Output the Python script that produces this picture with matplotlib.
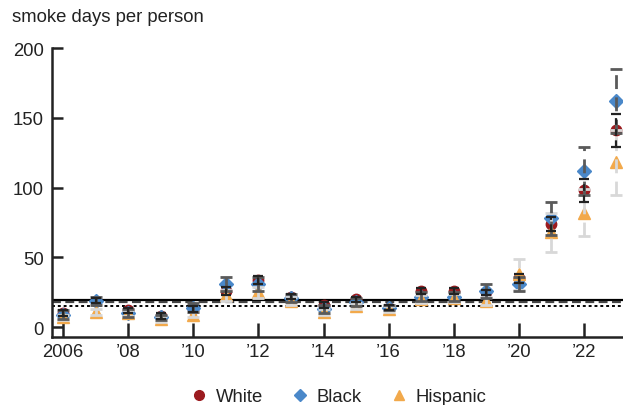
import matplotlib.pyplot as plt
from matplotlib.lines import Line2D

plt.rcParams['font.family'] = ['Liberation Sans', 'DejaVu Sans']

years = list(range(2006, 2024))

white = [10, 19, 12, 8, 13, 26, 34, 22, 16, 20, 14, 26, 26, 25, 35, 74, 98, 141]
black = [9, 19, 10, 7, 14, 31, 31, 21, 13, 18, 14, 22, 22, 26, 31, 78, 112, 162]
hispanic = [7, 11, 10, 6, 9, 23, 25, 19, 11, 15, 13, 20, 21, 19, 38, 68, 82, 118]

white_err = [2, 2, 2, 2, 2, 3, 3, 2, 2, 2, 2, 2, 2, 2, 3, 5, 8, 12]
black_err = [3, 3, 3, 2, 3, 5, 5, 3, 3, 3, 2, 3, 3, 5, 5, 12, 17, 23]
hispanic_err = [2, 2, 2, 2, 2, 4, 4, 3, 2, 2, 2, 3, 3, 3, 11, 14, 17, 23]

# reference levels for each group
white_mean = 19.5
black_mean = 18
hispanic_mean = 15

c_white = '#9b1b1f'
c_black = '#4a88c9'
c_hisp = '#f2a94b'
txt = '#222222'
fs = 13.3

fig = plt.figure(figsize=(6.23, 4.06), dpi=100)
ax = fig.add_axes([52 / 623, 68 / 406, 571 / 623, 289 / 406])

ax.axhline(white_mean, color='black', lw=1.6, zorder=1)
ax.axhline(black_mean, color='#444444', lw=1.6, ls=(0, (4, 2)), zorder=1)
ax.axhline(hispanic_mean, color='black', lw=1.4, ls=(0, (1.5, 1.5)), zorder=1)

ax.plot(years, white, 'o', color=c_white, ms=7.5, zorder=3)
ax.plot(years, black, 'D', color=c_black, ms=7, zorder=3)
ax.plot(years, hispanic, '^', color=c_hisp, ms=8, zorder=3)

# confidence bands drawn over the markers, dashed like the source
eb = ax.errorbar(years, hispanic, yerr=hispanic_err, fmt='none', ecolor='#d8d8d8',
                 elinewidth=2, capsize=4, capthick=2, zorder=4)
eb[2][0].set_linestyle((0, (5, 3)))
eb = ax.errorbar(years, black, yerr=black_err, fmt='none', ecolor='#5a5a5a',
                 elinewidth=2, capsize=4, capthick=2, zorder=4)
eb[2][0].set_linestyle((0, (5, 3)))
eb = ax.errorbar(years, white, yerr=white_err, fmt='none', ecolor='#222222',
                 elinewidth=1.6, capsize=3.5, capthick=1.6, zorder=5)
eb[2][0].set_linestyle((0, (3, 2)))

ax.set_xlim(2005.66, 2023.2)
ax.set_ylim(-7, 200)
ax.set_yticks([0, 50, 100, 150, 200])
xt = list(range(2006, 2023, 2))
ax.set_xticks(xt)
ax.set_xticklabels(['2006'] + ['\u2019' + str(y)[2:] for y in xt[1:]])

for s in ['top', 'right']:
    ax.spines[s].set_visible(False)
for s in ['left', 'bottom']:
    ax.spines[s].set_linewidth(1.8)
    ax.spines[s].set_color(txt)
ax.tick_params(axis='y', direction='in', length=8, width=1.8, labelsize=fs, pad=6,
               color=txt, labelcolor=txt)
ax.tick_params(axis='x', direction='in', length=10, width=1.8, labelsize=fs, pad=4,
               color=txt, labelcolor=txt)

fig.text(12 / 623, 1 - 18 / 406, 'smoke days per person', fontsize=fs, va='center',
         ha='left', color=txt)

handles = [
    Line2D([], [], ls='none', marker='o', color=c_white, ms=7),
    Line2D([], [], ls='none', marker='D', color=c_black, ms=6.5),
    Line2D([], [], ls='none', marker='^', color=c_hisp, ms=7.5),
]
fig.legend(handles, ['White', 'Black', 'Hispanic'], loc='center',
           bbox_to_anchor=(339 / 623, 1 - 398 / 406), ncol=3, frameon=False,
           fontsize=fs, handlelength=0.8, handletextpad=0.5, columnspacing=1.6,
           labelcolor=txt)

fig.savefig('out.png', dpi=100)
